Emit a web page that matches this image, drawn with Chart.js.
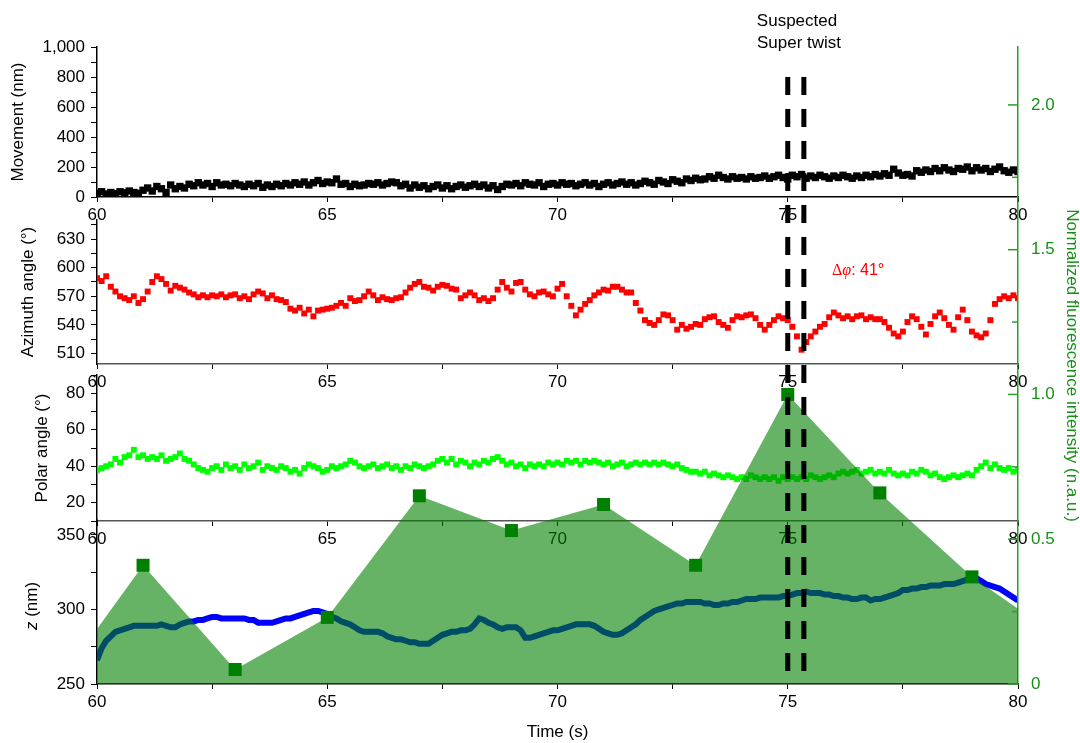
<!DOCTYPE html>
<html>
<head>
<meta charset="utf-8">
<script src="https://cdn.jsdelivr.net/npm/chart.js@4.4.1/dist/chart.umd.min.js"></script>
<style>
    html, body { margin: 0; padding: 0; background: #fff; }
    #wrap { position: relative; width: 1080px; height: 743px; }
    #wrap canvas { position: absolute; left: 0; top: 0; }
</style>
</head>
<body>
<div id="wrap">
    <canvas id="movementChart" width="1080" height="743"></canvas>
    <canvas id="azimuthChart" width="1080" height="743"></canvas>
    <canvas id="polarChart" width="1080" height="743"></canvas>
    <canvas id="zChart" width="1080" height="743"></canvas>
    <canvas id="fluoChart" width="1080" height="743"></canvas>
</div>
<script>
// sampling grid, 0.1 s from 60 s to 80 s
const times = Array.from({ length: 201 }, (_, i) => 60 + i / 10);

const movement = [
    25, 35, 20, 30, 22, 35, 28, 40, 30, 25,
    45, 60, 40, 70, 55, 30, 80, 55, 70, 60,
    85, 75, 95, 80, 90, 70, 95, 80, 85, 75,
    90, 80, 70, 85, 75, 90, 65, 80, 70, 85,
    75, 90, 80, 95, 85, 100, 80, 95, 110, 90,
    100, 95, 120, 85, 90, 70, 85, 75, 80, 90,
    85, 95, 80, 90, 100, 95, 75, 85, 60, 80,
    65, 75, 55, 70, 80, 60, 75, 55, 70, 80,
    65, 75, 85, 70, 80, 60, 75, 50, 70, 85,
    80, 90, 75, 95, 85, 80, 95, 70, 85, 90,
    80, 95, 85, 90, 75, 85, 95, 80, 90, 70,
    85, 95, 80, 90, 100, 85, 95, 80, 90, 105,
    95, 85, 110, 100, 90, 115, 105, 95, 120, 110,
    125, 115, 120, 135, 125, 145, 130, 120, 135, 125,
    130, 120, 135, 125, 130, 140, 125, 135, 145, 130,
    120, 145, 135, 150, 125, 140, 130, 145, 135, 125,
    140, 130, 145, 135, 125, 140, 130, 145, 135, 150,
    140, 155, 145, 185, 160, 145, 150, 140, 175, 165,
    180, 170, 190, 175, 195, 180, 170, 190, 185, 200,
    175, 195, 180, 190, 170, 185, 200, 175, 165, 180,
    170
];

const azimuth = [
    589, 586, 591, 580, 575, 570, 568, 566, 570, 563,
    567, 575, 585, 591, 588, 583, 576, 581, 579, 577,
    574, 572, 569, 571, 569, 571, 570, 572, 569, 571,
    572, 568, 570, 567, 572, 575, 573, 568, 571, 567,
    566, 564, 557, 555, 558, 552, 556, 549, 555, 556,
    557, 558, 560, 563, 560, 568, 565, 566, 570, 575,
    571, 566, 569, 567, 566, 568, 569, 574, 579, 583,
    585, 580, 579, 576, 580, 582, 581, 578, 577, 568,
    571, 574, 571, 566, 568, 565, 568, 577, 585, 579,
    575, 584, 585, 577, 572, 570, 574, 575, 572, 570,
    578, 583, 570, 560, 550, 556, 562, 566, 571, 574,
    577, 576, 580, 580, 577, 574, 574, 563, 555, 545,
    542, 540, 545, 551, 550, 545, 535, 540, 536, 538,
    541, 540, 546, 548, 549, 543, 540, 537, 545, 549,
    548, 550, 551, 547, 540, 535, 540, 545, 549, 547,
    545, 538, 528, 514, 522, 528, 533, 538, 541, 548,
    553, 550, 547, 549, 546, 549, 550, 546, 548, 546,
    546, 543, 537, 531, 528, 533, 543, 549, 546, 538,
    530, 541, 549, 553, 547, 540, 535, 548, 556, 545,
    533, 529, 527, 531, 545, 562, 567, 570, 568, 571,
    568
];

const polar = [
    38, 39, 40, 41, 44, 42, 45, 46, 49, 45,
    46, 44, 45, 44, 46, 43, 44, 45, 47, 44,
    43, 41, 39, 38, 37, 39, 40, 38, 41, 39,
    40, 38, 41, 39, 40, 42, 38, 40, 39, 38,
    40, 39, 37, 38, 36, 39, 41, 40, 39, 37,
    38, 40, 39, 40, 41, 43, 42, 40, 39, 40,
    41, 39, 40, 41, 39, 40, 38, 40, 39, 41,
    40, 39, 40, 41, 43, 44, 42, 44, 41, 43,
    42, 40, 42, 41, 43, 42, 44, 45, 43, 41,
    42, 40, 41, 39, 41, 40, 41, 40, 42, 41,
    42, 41, 43, 42, 43, 41, 43, 42, 43, 42,
    41, 42, 40, 41, 42, 40, 41, 42, 41, 42,
    41, 42, 41, 42, 41, 40, 41, 39, 38, 37,
    37, 36, 37, 35, 36, 35, 34, 35, 34, 33,
    34, 33, 35, 34, 33, 34, 33, 34, 32, 34,
    33, 34, 33, 34, 33, 35, 34, 33, 34, 35,
    34, 36, 37, 36, 37, 38, 36, 37, 38, 36,
    37, 36, 38, 36, 35, 36, 35, 37, 36, 38,
    37, 35, 36, 34, 33, 34, 35, 34, 35, 36,
    35, 38, 40, 42, 39, 41, 39, 38, 39, 37,
    38
];

const zPos = [
    266, 274, 279, 282, 285, 286, 287, 288, 289, 289,
    289, 289, 289, 289, 290, 289, 288, 288, 290, 291,
    292, 292, 293, 293, 294, 295, 295, 294, 294, 294,
    294, 294, 294, 293, 293, 291, 291, 291, 291, 292,
    293, 294, 294, 295, 296, 297, 298, 299, 299, 298,
    297, 295, 294, 292, 291, 290, 288, 286, 285, 285,
    285, 285, 284, 282, 281, 280, 280, 279, 278, 278,
    277, 277, 277, 279, 281, 283, 284, 285, 285, 286,
    286, 287, 290, 294, 293, 291, 290, 288, 287, 288,
    288, 288, 286, 281, 281, 282, 283, 284, 285, 286,
    286, 287, 288, 289, 290, 290, 290, 290, 289, 287,
    285, 284, 283, 283, 284, 286, 288, 290, 293, 295,
    297, 299, 300, 301, 302, 303, 304, 304, 305, 305,
    305, 305, 304, 304, 303, 303, 304, 304, 305, 305,
    306, 307, 307, 307, 308, 308, 308, 308, 308, 309,
    309, 310, 311, 311, 312, 311, 311, 311, 310, 310,
    309, 309, 308, 308, 307, 307, 308, 308, 306, 307,
    307, 308, 309, 310, 311, 313, 313, 314, 314, 315,
    315, 316, 316, 316, 317, 317, 317, 318, 319, 320,
    321, 321, 319, 317, 316, 315, 314, 312, 310, 308,
    306
];

// normalized fluorescence intensity
const fluoTimes = [60, 61, 63, 65, 67, 69, 71, 73, 75, 77, 79, 80];
const fluoValues = [0.19, 0.41, 0.05, 0.23, 0.65, 0.53, 0.62, 0.41, 1.0, 0.66, 0.37, 0.26];

const twistTimes = [75.0, 75.35];

Chart.defaults.font.family = '"Liberation Sans", Arial, sans-serif';
Chart.defaults.font.size = 17;
Chart.defaults.color = '#000';

const W = 1080, H = 743, LEFT = 97, RIGHT = 62;

function pts(ys) {
    return times.map((t, i) => ({ x: t, y: ys[i] }));
}

function makePanel(id, cfg) {
    return new Chart(document.getElementById(id), {
        type: 'scatter',
        data: { datasets: cfg.datasets },
        options: {
            responsive: false,
            animation: false,
            devicePixelRatio: 1,
            layout: { padding: { left: 0, right: RIGHT, top: cfg.top, bottom: H - cfg.bottom - cfg.xh } },
            plugins: { legend: { display: false }, tooltip: { enabled: false } },
            scales: {
                x: {
                    type: 'linear', min: 60, max: 80,
                    afterFit: s => { s.height = cfg.xh; },
                    border: { color: cfg.xLine, width: 1.5 },
                    grid: { drawOnChartArea: false, tickLength: 5, tickColor: '#000' },
                    ticks: {
                        stepSize: 2.5, autoSkip: false, maxRotation: 0, padding: 3,
                        callback: v => v % 5 === 0 ? v : ''
                    },
                    title: cfg.xTitle
                        ? { display: true, text: cfg.xTitle, padding: { top: 0, bottom: 0 } }
                        : { display: false }
                },
                y: {
                    min: cfg.ymin, max: cfg.ymax,
                    afterFit: s => { s.width = LEFT; },
                    border: { color: '#000', width: 1.5 },
                    grid: { drawOnChartArea: false, tickLength: 6, tickColor: '#000' },
                    ticks: {
                        stepSize: cfg.step, autoSkip: false, includeBounds: false, padding: 6,
                        callback: cfg.label
                    },
                    title: cfg.yTitle
                        ? { display: true, text: cfg.yTitle, padding: { top: cfg.titlePad, bottom: 0 } }
                        : { display: false }
                }
            }
        },
        plugins: cfg.plugins || []
    });
}

makePanel('movementChart', {
    top: 47, bottom: 197, xh: 30, xLine: '#000',
    ymin: 0, ymax: 1000, step: 100,
    label: v => v % 200 === 0 ? v.toLocaleString('en-US') : '',
    yTitle: 'Movement (nm)', titlePad: 8,
    datasets: [{
        data: pts(movement), backgroundColor: '#000', borderWidth: 0,
        pointStyle: 'rect', pointRadius: 5.2
    }]
});

makePanel('azimuthChart', {
    top: 220, bottom: 364, xh: 30, xLine: '#555',
    ymin: 499, ymax: 650, step: 15,
    label: v => (v - 510) % 30 === 0 ? v : '',
    yTitle: 'Azimuth angle (°)', titlePad: 18,
    datasets: [{
        data: pts(azimuth), backgroundColor: '#ff0000', borderWidth: 0,
        pointStyle: 'rect', pointRadius: 4.2
    }]
});

makePanel('polarChart', {
    top: 375, bottom: 521, xh: 30, xLine: '#555',
    ymin: 10, ymax: 90, step: 10,
    label: v => v % 20 === 0 ? v : '',
    yTitle: 'Polar angle (°)', titlePad: 32,
    datasets: [{
        data: pts(polar), backgroundColor: '#00ff00', borderWidth: 0,
        pointStyle: 'rect', pointRadius: 4.2
    }]
});

// z title has an italic z, drawn by hand
const zTitle = {
    id: 'zTitle',
    afterDraw(chart) {
        const { ctx, chartArea } = chart;
        ctx.save();
        ctx.translate(32, (chartArea.top + chartArea.bottom) / 2 + 4);
        ctx.rotate(-Math.PI / 2);
        ctx.fillStyle = '#000';
        ctx.textBaseline = 'middle';
        ctx.font = 'italic 17px "Liberation Sans"';
        const w1 = ctx.measureText('z').width;
        ctx.font = '17px "Liberation Sans"';
        const w2 = ctx.measureText(' (nm)').width;
        let x0 = -(w1 + w2) / 2;
        ctx.textAlign = 'left';
        ctx.font = 'italic 17px "Liberation Sans"';
        ctx.fillText('z', x0, 0);
        ctx.font = '17px "Liberation Sans"';
        ctx.fillText(' (nm)', x0 + w1, 0);
        ctx.restore();
    }
};

makePanel('zChart', {
    top: 520, bottom: 684, xh: 59, xLine: '#000', xTitle: 'Time (s)',
    ymin: 250, ymax: 360, step: 25,
    label: v => v % 50 === 0 ? v : '',
    yTitle: null,
    plugins: [zTitle],
    datasets: [{
        data: pts(zPos), showLine: true, borderColor: '#0000ff', borderWidth: 6,
        pointRadius: 0, tension: 0
    }]
});

// overlay: fluorescence area, right axis, dashed markers and notes
const overlayMarks = {
    id: 'overlayMarks',
    afterDraw(chart) {
        const { ctx, chartArea } = chart;
        const xs = chart.scales.x, yF = chart.scales.yF;
        ctx.save();

        ctx.strokeStyle = '#2a9d2a';
        ctx.lineWidth = 1.5;
        yF.ticks.forEach(t => {
            const py = yF.getPixelForValue(t.value);
            const len = t.label ? 10 : 6;
            ctx.beginPath();
            ctx.moveTo(chartArea.right - len, py);
            ctx.lineTo(chartArea.right, py);
            ctx.stroke();
        });

        ctx.strokeStyle = '#000';
        ctx.lineWidth = 5;
        ctx.setLineDash([18, 14]);
        twistTimes.forEach(t => {
            const px = xs.getPixelForValue(t);
            ctx.beginPath();
            ctx.moveTo(px, 77);
            ctx.lineTo(px, 671);
            ctx.stroke();
        });
        ctx.setLineDash([]);

        ctx.fillStyle = '#000';
        ctx.font = '17px "Liberation Sans"';
        ctx.textAlign = 'center';
        ctx.textBaseline = 'middle';
        ctx.fillText('Suspected', 797, 21);
        ctx.fillText('Super twist', 799, 43);

        ctx.fillStyle = '#ff0000';
        ctx.textAlign = 'left';
        let tx = 832;
        ctx.font = '16px "Liberation Serif"';
        ctx.fillText('Δ', tx, 271);
        tx += ctx.measureText('Δ').width;
        ctx.font = 'italic 16px "Liberation Serif"';
        ctx.fillText('φ', tx, 271);
        tx += ctx.measureText('φ').width;
        ctx.font = '16px "Liberation Sans"';
        ctx.fillText(': 41°', tx, 271);
        ctx.restore();
    }
};

new Chart(document.getElementById('fluoChart'), {
    type: 'line',
    data: {
        datasets: [{
            data: fluoTimes.map((t, i) => ({ x: t, y: fluoValues[i] })),
            yAxisID: 'yF',
            fill: 'origin',
            backgroundColor: 'rgba(0, 128, 0, 0.6)',
            borderWidth: 0,
            tension: 0,
            pointStyle: 'rect',
            pointRadius: fluoTimes.map(t => (t === 60 || t === 80) ? 0 : 9.2),
            pointBackgroundColor: '#008000',
            pointBorderWidth: 0
        }]
    },
    options: {
        responsive: false,
        animation: false,
        devicePixelRatio: 1,
        layout: { padding: { left: LEFT, right: 0, top: 47, bottom: H - 684 } },
        plugins: { legend: { display: false }, tooltip: { enabled: false } },
        scales: {
            x: { type: 'linear', min: 60, max: 80, display: false },
            yF: {
                position: 'right', min: 0, max: 2.2,
                afterFit: s => { s.width = RIGHT; },
                border: { color: '#2a9d2a', width: 1.5 },
                grid: { drawOnChartArea: false, drawTicks: false },
                ticks: {
                    stepSize: 0.25, autoSkip: false, includeBounds: false, padding: 13,
                    color: '#179017',
                    callback: v => v === 0 ? '0' : ((v * 2) % 1 === 0 ? v.toFixed(1) : '')
                },
                title: {
                    display: true, text: 'Normalized fluorescence intensity (n.a.u.)',
                    color: '#179017', font: { size: 17, lineHeight: 1 }, padding: { top: 0, bottom: 0 }
                }
            }
        }
    },
    plugins: [overlayMarks]
});
</script>
</body>
</html>
